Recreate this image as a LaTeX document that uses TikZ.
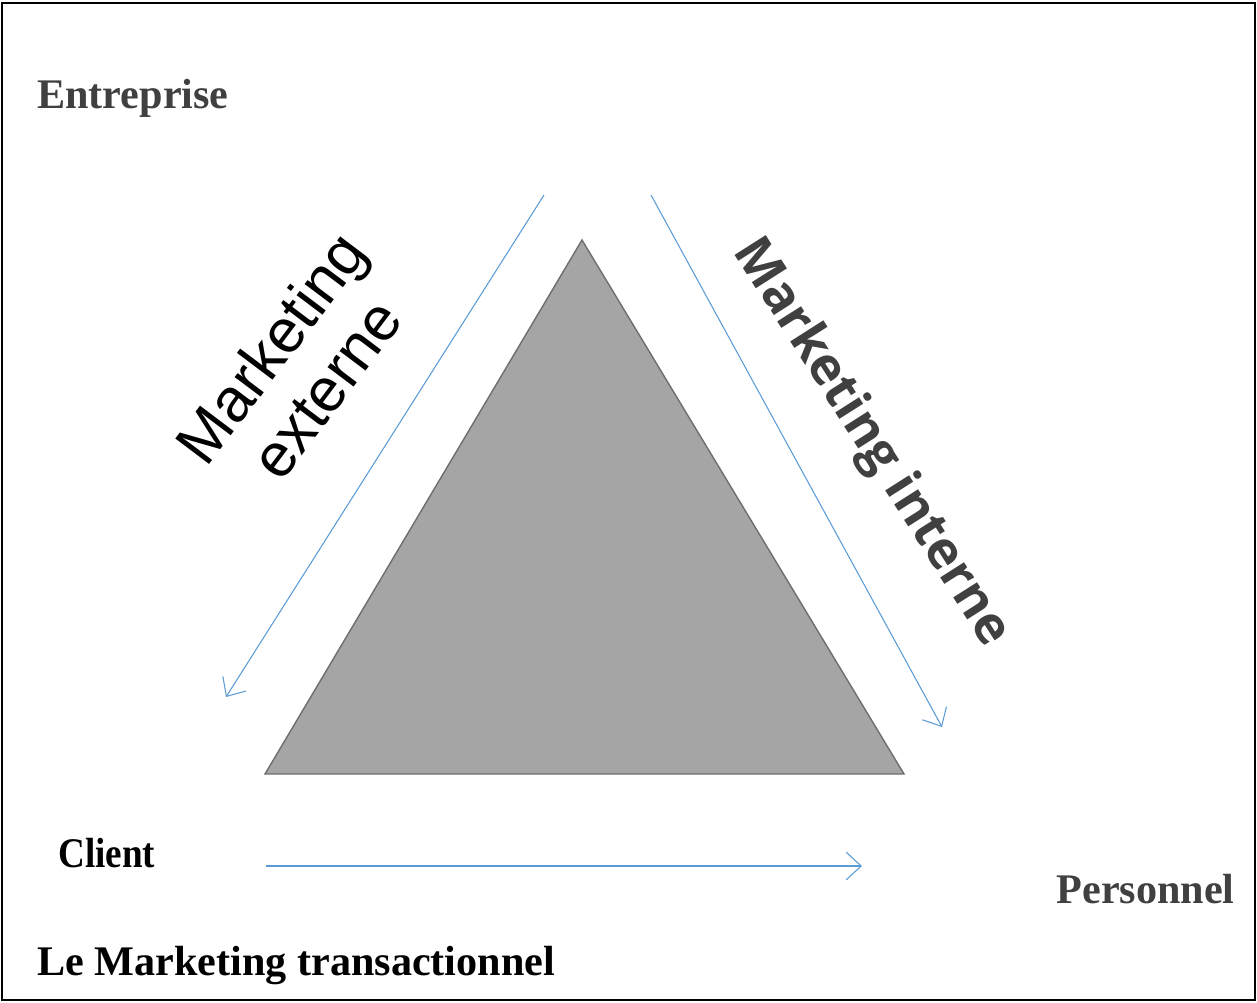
\documentclass[tikz,border=0pt]{standalone}
\usepackage{fontspec}
\setmainfont{Liberation Serif}
\setsansfont{Liberation Sans}
\newfontfamily\opensans{Open Sans}
\usepackage{xcolor}
\usepackage{tikz}
\usetikzlibrary{arrows.meta}
\definecolor{bleufleche}{HTML}{5B9BD5}
\definecolor{grisfond}{HTML}{A5A5A5}
\definecolor{grisbord}{HTML}{6E6E6E}
\definecolor{gristexte}{HTML}{404040}
\tikzset{
	pole/.style={font=\fontsize{24}{28}\selectfont\bfseries,inner sep=0pt},
	axe/.style={font=\sffamily\fontsize{35}{39}\selectfont,align=center,inner sep=0pt},
	fleche/.style={draw=bleufleche,line width=0.6pt,
		-{Straight Barb[length=3mm,width=5.5mm]}}
}

\begin{document}
\begin{tikzpicture}[x=0.02cm,y=-0.02cm]
	\useasboundingbox (0,0) rectangle (1257,1002);
	\draw[line width=1.2pt] (2,3) rectangle (1255,1000);
	% le triangle
	\coordinate (sommet) at (582,240);
	\coordinate (basg) at (265,774);
	\coordinate (basd) at (904,774);
	\fill[grisfond,draw=grisbord,line width=0.8pt] (sommet) -- (basg) -- (basd) -- cycle;
	% les fleches
	\coordinate (e1) at (544,195);
	\coordinate (e2) at (226,697);
	\coordinate (i1) at (651,195);
	\coordinate (i2) at (942,727);
	\coordinate (t1) at (266,866);
	\coordinate (t2) at (862,866);
	\draw[fleche] (e1) -- (e2);
	\draw[fleche] (i1) -- (i2);
	\draw[fleche] (t1) -- (t2);
	% les textes
	\node[pole,text=gristexte,anchor=base west] (entreprise) at (37,108) {Entreprise};
	\node[pole,anchor=base west] (client) at (58,867) {\scalebox{0.88}[1]{Client}};
	\node[pole,text=gristexte,anchor=base east] (personnel) at (1235,903) {Personnel};
	\node[pole,anchor=base west] (titre) at (37,975) {Le Marketing transactionnel};
	\node[axe,rotate=53] (externe) at (298,368) {Marketing\\externe};
	\node[axe,font=\opensans\bfseries\fontsize{29.5}{40}\selectfont,text=gristexte,rotate=-57.5] (interne) at (871,443) {Marketing interne};
\end{tikzpicture}
\end{document}
